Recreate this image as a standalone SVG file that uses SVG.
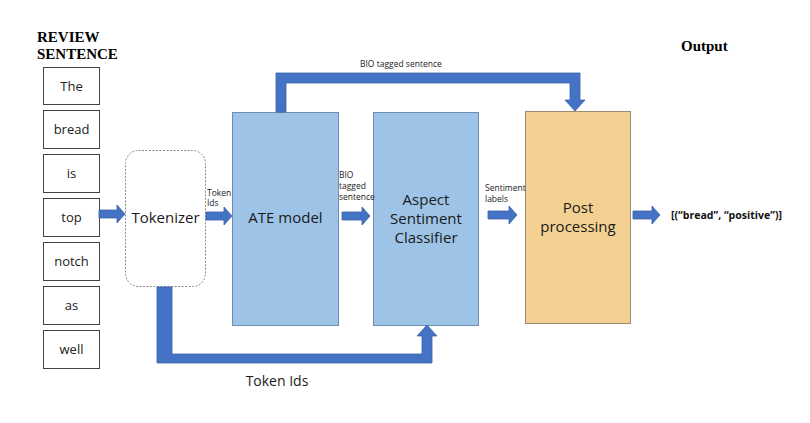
<svg xmlns="http://www.w3.org/2000/svg" width="810" height="423" viewBox="0 0 810 423">
<style>
.word{fill:#fff;stroke:#444;stroke-width:1}
.wt{font-family:"Open Sans","Liberation Sans",sans-serif;font-size:13px;fill:#222;text-anchor:middle}
.hd{font-family:"Liberation Serif",serif;font-weight:bold;font-size:15px;fill:#000}
.blue{fill:#9DC3E6;stroke:#6E8DB0;stroke-width:1}
.gold{fill:#F4D192;stroke:#9A8A70;stroke-width:1}
.bt{font-family:"Open Sans","Liberation Sans",sans-serif;font-size:15px;fill:#1a1a1a;text-anchor:middle}
.sm{font-family:"Open Sans","Liberation Sans",sans-serif;font-size:8.5px;fill:#222}
.arr{fill:#4472C4;stroke:#3A62A8;stroke-width:0.8}
</style>
<rect width="810" height="423" fill="#fff"/>
<text class="hd" x="37" y="42">REVIEW</text>
<text class="hd" x="37" y="59">SENTENCE</text>
<g id="w-the"><rect class="word" x="43.5" y="67.5" width="56" height="37"/><text class="wt" x="71.5" y="90.5">The</text></g>
<g id="w-bread"><rect class="word" x="43.5" y="110.5" width="56" height="38"/><text class="wt" x="71.5" y="134">bread</text></g>
<g id="w-is"><rect class="word" x="43.5" y="154.5" width="56" height="38"/><text class="wt" x="71.5" y="178">is</text></g>
<g id="w-top"><rect class="word" x="43.5" y="198.5" width="56" height="38"/><text class="wt" x="71.5" y="222">top</text></g>
<g id="w-notch"><rect class="word" x="43.5" y="242.5" width="56" height="38"/><text class="wt" x="71.5" y="266">notch</text></g>
<g id="w-as"><rect class="word" x="43.5" y="286.5" width="56" height="38"/><text class="wt" x="71.5" y="310">as</text></g>
<g id="w-well"><rect class="word" x="43.5" y="330.5" width="56" height="38"/><text class="wt" x="71.5" y="354">well</text></g>
<g id="tokenizer"><rect x="125.5" y="150.5" width="80" height="136" rx="13" fill="#fff" stroke="#888" stroke-width="1" stroke-dasharray="2,1.5"/><text class="bt" x="165.5" y="223">Tokenizer</text></g>
<g id="ate"><rect class="blue" x="232.5" y="112.5" width="106" height="213"/><text class="bt" x="285.5" y="223">ATE model</text></g>
<g id="asc"><rect class="blue" x="373.5" y="112.5" width="105" height="213"/><text class="bt" x="426" y="205">Aspect</text><text class="bt" x="426" y="224">Sentiment</text><text class="bt" x="426" y="243">Classifier</text></g>
<g id="post"><rect class="gold" x="525.5" y="111.5" width="105" height="212"/><text class="bt" x="578" y="213">Post</text><text class="bt" x="578" y="232">processing</text></g>
<g id="connectors">
<path class="arr" d="M99,210 H117 V205 L125,214 L117,223 V218 H99 Z"/>
<path class="arr" d="M206,212 H224 V207 L232,216 L224,225 V220 H206 Z"/>
<path class="arr" d="M342,212 H362 V207 L370,216 L362,225 V220 H342 Z"/>
<path class="arr" d="M488,211 H509 V206 L517,215 L509,224 V219 H488 Z"/>
<path class="arr" d="M633,211 H652 V206 L660,215 L652,224 V219 H633 Z"/>
<path class="arr" d="M276,112 V73 H580 V100 H585 L575,111 L565,100 H570 V83 H286 V112 Z"/>
<path class="arr" d="M157,287 V363 H432 V336 H437 L427,325 L417,336 H422 V354 H172 V287 Z"/>
</g>
<text class="sm" x="360" y="67">BIO tagged sentence</text>
<text class="sm" x="207" y="196">Token</text>
<text class="sm" x="207" y="206">Ids</text>
<text class="sm" x="339" y="178">BIO</text>
<text class="sm" x="339" y="189">tagged</text>
<text class="sm" x="339" y="200">sentence</text>
<text class="sm" x="485" y="191">Sentiment</text>
<text class="sm" x="485" y="202">labels</text>
<text class="bt" x="277" y="386" style="font-size:14px">Token Ids</text>
<text class="hd" x="681" y="51">Output</text>
<text x="671" y="219" font-family="Open Sans,Liberation Sans,sans-serif" font-weight="bold" font-size="11" fill="#111" textLength="111" lengthAdjust="spacingAndGlyphs">[(“bread”, “positive”)]</text>
</svg>
